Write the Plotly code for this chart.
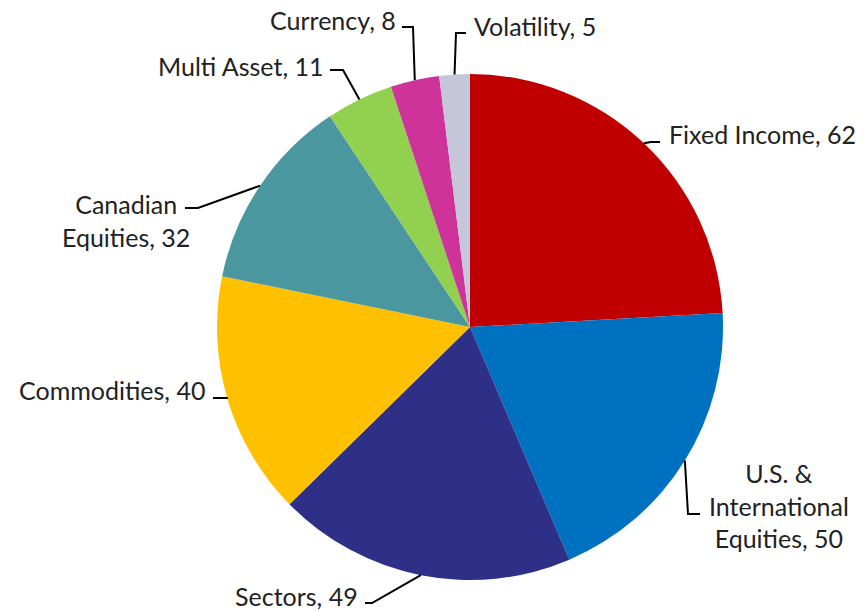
import math
import plotly.graph_objects as go

# data
labels = ["Fixed Income", "U.S. &<br>International<br>Equities", "Sectors", "Commodities",
          "Canadian<br>Equities", "Multi Asset", "Currency", "Volatility"]
values = [62, 50, 49, 40, 32, 11, 8, 5]
colors = ["#C00000", "#0070C0", "#2E3087", "#FFC000", "#4A979F", "#92D050", "#CE3399", "#C6C6DA"]

W, H = 866, 611
CX, CY, R = 470, 327, 253  # pie centre / radius in pixels

# label placement (pixels): text centre, elbow of leader, end of leader
label_pos = [
    (762, 134), (779, 505), (296, 596), (112, 390),
    (126, 220), (241, 66), (333, 20), (535, 26),
]
elbows = [
    (651, 142), (688, 514), (372, 603), (227, 398),
    (198, 208), (343, 70), (413, 27), (456, 33),
]
ends = [
    (660, 142), (700, 514), (365, 603), (213, 398),
    (185, 208), (330, 70), (402, 27), (466, 33),
]


def px(x, y):
    return x / W, 1 - y / H


fig = go.Figure(go.Pie(
    labels=labels, values=values, sort=False, direction="clockwise", rotation=0,
    marker=dict(colors=colors, line=dict(width=0)),
    textinfo="none", hoverinfo="label+value", showlegend=False,
    domain=dict(x=[(CX - R) / W, (CX + R) / W], y=[(H - CY - R) / H, (H - CY + R) / H]),
))

total = sum(values)
cum = 0
for i, v in enumerate(values):
    mid = (cum + v / 2) / total * 2 * math.pi
    cum += v
    ex, ey = CX + R * math.sin(mid), CY - R * math.cos(mid)
    pts = [px(ex, ey), px(*elbows[i]), px(*ends[i])]
    path = "M {} {} L {} {} L {} {}".format(*[c for p in pts for c in p])
    fig.add_shape(type="path", path=path, xref="paper", yref="paper",
                  line=dict(color="black", width=2))
    tx, ty = px(*label_pos[i])
    fig.add_annotation(x=tx, y=ty, xref="paper", yref="paper", showarrow=False,
                       text=f"{labels[i]}, {v}", align="center",
                       xanchor="center", yanchor="middle")

fig.update_layout(
    width=W, height=H, margin=dict(l=0, r=0, t=0, b=0),
    paper_bgcolor="white", plot_bgcolor="white",
    font=dict(family="Lato, sans-serif", size=25, color="#222222"),
)

# drop the default 8px page margin so the figure sits at the window corner
fig.write_html("out.html", config={"displayModeBar": False},
               post_script="document.body.style.margin='0';")
